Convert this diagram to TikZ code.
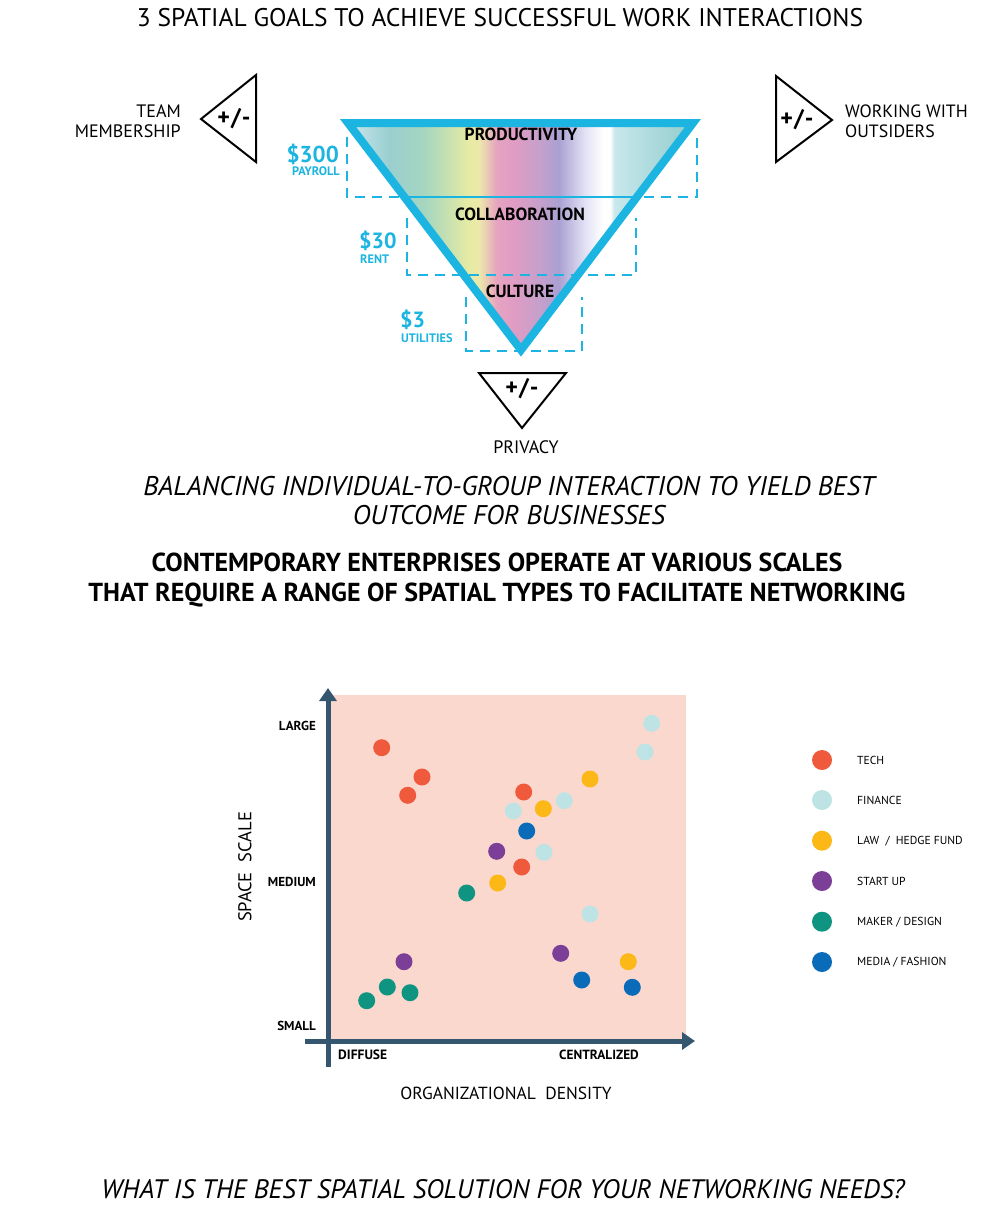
\documentclass[tikz,border=0pt]{standalone}
\usepackage{fontspec}
\setmainfont{PT Sans}
\newfontfamily\din{PT Sans}
\usetikzlibrary{arrows.meta}
\definecolor{cyanx}{RGB}{28,180,224}
\definecolor{axisc}{RGB}{52,86,111}
\definecolor{pinkbg}{RGB}{251,216,206}
\definecolor{tech}{RGB}{238,90,59}
\definecolor{finance}{RGB}{190,227,228}
\definecolor{law}{RGB}{251,184,23}
\definecolor{startup}{RGB}{124,63,151}
\definecolor{maker}{RGB}{15,148,129}
\definecolor{media}{RGB}{10,108,184}
\definecolor{g0}{RGB}{200,230,238}
\definecolor{g1}{RGB}{154,207,207}
\definecolor{g2}{RGB}{164,214,192}
\definecolor{g3}{RGB}{230,235,164}
\definecolor{g4}{RGB}{236,232,170}
\definecolor{g5}{RGB}{230,164,192}
\definecolor{g6}{RGB}{224,156,196}
\definecolor{g7}{RGB}{196,160,204}
\definecolor{g8}{RGB}{170,160,210}
\definecolor{g9}{RGB}{228,228,246}
\definecolor{g10}{RGB}{255,255,255}
\definecolor{g11}{RGB}{200,232,236}
\definecolor{g12}{RGB}{144,204,204}
\pgfdeclarehorizontalshading{rainbow}{100bp}{color(0bp)=(g0); color(25bp)=(g0); color(31bp)=(g1); color(36bp)=(g2); color(42.5bp)=(g3); color(44bp)=(g4); color(46.5bp)=(g5); color(49bp)=(g6); color(53bp)=(g7); color(55.5bp)=(g8); color(59.5bp)=(g9); color(62bp)=(g10); color(63bp)=(g10); color(63.6bp)=(g11); color(75bp)=(g12); color(100bp)=(g12)}
\tikzset{
  txt/.style={inner sep=0pt, text=black},
  sz/.style 2 args={font=\din\fontsize{#1}{#2}\selectfont},
  bsz/.style 2 args={font=\din\bfseries\fontsize{#1}{#2}\selectfont},
  isz/.style 2 args={font=\din\itshape\fontsize{#1}{#2}\selectfont},
  dashbox/.style={cyanx, line width=2pt, dash pattern=on 10pt off 7pt},
  smalltri/.style={black, line width=2pt, line join=miter},
  pm/.style={txt, bsz={24}{26}},
  axisline/.style={axisc, line width=5pt, -{Triangle[length=13pt,width=17pt]}},
  ylab/.style={txt, bsz={13}{15}, anchor=east},
  leg/.style={txt, sz={11.6}{14}, anchor=west},
}
\begin{document}
\begin{tikzpicture}[x=1pt,y=-1pt]
\useasboundingbox[fill=white] (0,0) rectangle (1000,1221);
% title
\node[txt, sz={25.5}{29}] (title) at (500,18) {3 SPATIAL GOALS TO ACHIEVE SUCCESSFUL WORK INTERACTIONS};
% big triangle
\shade[shading=rainbow] (348,123) -- (693,123) -- (521,350) -- cycle;
\draw[dashbox] (347,137) -- (347,197) -- (697,197) -- (697,137);
\draw[dashbox] (407,218) -- (407,275) -- (636,275) -- (636,218);
\draw[dashbox] (466,297) -- (466,351) -- (582,351) -- (582,297);
\draw[cyanx, line width=2pt] (404,197) -- (637,197);
\draw[cyanx, line width=8pt, line join=miter] (348,123) -- (693,123) -- (521,350) -- cycle;
\node[txt, bsz={17.5}{19}] (prod) at (521,134) {PRODUCTIVITY};
\node[txt, bsz={17.6}{19}] (collab) at (520,214) {COLLABORATION};
\node[txt, bsz={17.6}{19}] (cult) at (520,291) {CULTURE};
\node[txt, bsz={23}{26}, text=cyanx, anchor=east] (d300) at (339,154) {\$300};
\node[txt, bsz={12.3}{14}, text=cyanx, anchor=east] (payroll) at (340,171) {PAYROLL};
\node[txt, bsz={22}{24}, text=cyanx, anchor=west] (d30) at (359,241) {\$30};
\node[txt, bsz={12.3}{14}, text=cyanx, anchor=west] (rent) at (360,259) {RENT};
\node[txt, bsz={22}{24}, text=cyanx, anchor=west] (d3) at (400,320) {\$3};
\node[txt, bsz={12.3}{14}, text=cyanx, anchor=west] (util) at (401,338) {UTILITIES};
% small triangles
\draw[smalltri] (256,75) -- (256,162) -- (201,119) -- cycle;
\node[pm] (pmL) at (234,119) {+\kern1pt/\kern1pt-};
\node[txt, sz={18}{20}, align=right, anchor=east] (team) at (181,121.7) {TEAM\\MEMBERSHIP};
\draw[smalltri] (776,76) -- (776,162) -- (832,120) -- cycle;
\node[pm] (pmR) at (797,120) {+\kern1pt/\kern1pt-};
\node[txt, sz={17.8}{20}, align=left, anchor=west] (work) at (845,121.7) {WORKING WITH\\OUTSIDERS};
\draw[smalltri] (479,373) -- (566,373) -- (522,428) -- cycle;
\node[pm] (pmB) at (522,389) {+\kern1pt/\kern1pt-};
\node[txt, sz={18}{20}] (priv) at (526,447) {PRIVACY};
% italic statement
\node[txt, isz={27}{29}, align=center] (bal) at (509,500.5) {BALANCING INDIVIDUAL-TO-GROUP INTERACTION TO YIELD BEST\\OUTCOME FOR BUSINESSES};
\node[txt, bsz={26}{30}, align=center] (cont) at (497,580) {CONTEMPORARY ENTERPRISES OPERATE AT VARIOUS SCALES\\THAT REQUIRE A RANGE OF SPATIAL TYPES TO FACILITATE NETWORKING};
% chart
\fill[pinkbg] (330,695) rectangle (686,1041);
\draw[axisline] (328,1067) -- (328,688);
\draw[axisline] (305,1041) -- (695,1041);
\node[ylab] (large) at (316,726) {LARGE};
\node[ylab] (medium) at (316,882) {MEDIUM};
\node[ylab] (small) at (316,1026) {SMALL};
\node[txt, bsz={13.5}{15}, anchor=west] (diffuse) at (338,1055) {DIFFUSE};
\node[txt, bsz={13.3}{15}] (central) at (599,1055) {CENTRALIZED};
\node[txt, sz={18.5}{20}, rotate=90] (yaxis) at (245,867) {SPACE\ \ SCALE};
\node[txt, sz={17.5}{20}] (xaxis) at (506,1093) {ORGANIZATIONAL\ \ DENSITY};
% dots
\foreach \p in {(381.7,747.7),(422,777),(407.7,795.3),(523.7,792),(521.7,867)} \fill[tech] \p circle (8.5pt);
\foreach \p in {(651.7,723.3),(645,752),(564.3,800.7),(513.3,811),(544,852.3),(590,914)} \fill[finance] \p circle (8.5pt);
\foreach \p in {(590,779),(543.3,808.7),(497.7,883),(628.3,961.7)} \fill[law] \p circle (8.5pt);
\foreach \p in {(496.7,851.3),(404,961.7),(560.7,953.3)} \fill[startup] \p circle (8.5pt);
\foreach \p in {(466.7,893),(366.7,1000.7),(387.3,987),(410,992.7)} \fill[maker] \p circle (8.5pt);
\foreach \p in {(526.7,831),(581.7,980),(632.3,987.3)} \fill[media] \p circle (8.5pt);
% legend
\fill[tech] (822,760) circle (10pt);
\node[leg] (lt) at (857,760) {TECH};
\fill[finance] (822,800) circle (10pt);
\node[leg] (lf) at (857,800) {FINANCE};
\fill[law] (822,840.7) circle (10pt);
\node[leg] (ll) at (857,840.7) {LAW\ \ /\ \ HEDGE FUND};
\fill[startup] (822,881) circle (10pt);
\node[leg] (ls) at (857,881) {START UP};
\fill[maker] (822,921.7) circle (10pt);
\node[leg] (lm) at (857,921.7) {MAKER / DESIGN};
\fill[media] (822,962) circle (10pt);
\node[leg] (lmf) at (857,962) {MEDIA / FASHION};
% bottom question
\node[txt, isz={26.7}{29}] (quest) at (503,1189) {WHAT IS THE BEST SPATIAL SOLUTION FOR YOUR NETWORKING NEEDS?};
\end{tikzpicture}
\end{document}
